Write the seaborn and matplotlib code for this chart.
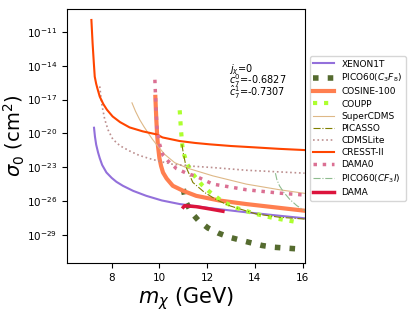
import numpy as np
import pandas as pd
import seaborn as sns
import matplotlib.pyplot as plt

# curves: mass in GeV, cross section as log10(cm^2)
xenon_x = [7.26, 7.3, 7.35, 7.43, 7.5, 7.6, 7.78, 8.0, 8.2, 8.47, 8.9, 9.45, 10.1, 10.85, 12.2, 13.64, 15.0, 16.08]
xenon_y = [-19.5, -20.3, -21.0, -21.7, -22.2, -22.8, -23.47, -23.95, -24.3, -24.65, -25.1, -25.54, -25.95, -26.27, -26.65, -27.0, -27.3, -27.53]

pico_c3f8_x = [11.0, 11.12, 11.33, 11.64, 12.03, 12.45, 12.91, 13.36, 13.82, 14.31, 14.79, 15.73]
pico_c3f8_y = [-24.94, -26.12, -27.0, -27.74, -28.39, -28.83, -29.2, -29.45, -29.7, -29.95, -30.1, -30.24]

cosine_x = [9.83, 9.85, 9.87, 9.9, 9.94, 10.0, 10.07, 10.15, 10.3, 10.56, 11.0, 11.54, 12.5, 13.64, 15.0, 16.08]
cosine_y = [-16.76, -17.8, -18.77, -20.0, -21.12, -22.2, -22.9, -23.47, -24.0, -24.65, -25.1, -25.54, -25.95, -26.27, -26.6, -26.86]

coupp_x = [10.85, 10.9, 10.96, 11.03, 11.17, 11.41, 11.78, 12.1, 12.66, 13.28, 14.05, 14.75, 15.8]
coupp_y = [-17.95, -19.6, -21.12, -21.86, -22.74, -23.62, -24.57, -25.18, -26.07, -26.65, -27.15, -27.5, -27.88]

supercdms_x = [8.85, 9.0, 9.17, 9.35, 9.52, 9.7, 9.87, 10.22, 10.64, 11.2, 12.24, 13.64, 15.03, 16.08]
supercdms_y = [-17.29, -18.05, -18.77, -19.4, -19.94, -20.5, -20.97, -21.86, -22.6, -23.1, -23.77, -24.5, -25.0, -25.32]

picasso_x = [10.94, 11.01, 11.12, 11.4, 11.89, 12.4, 12.94, 14.05, 15.03, 16.08]
picasso_y = [-20.97, -21.86, -23.0, -24.35, -25.24, -25.9, -26.42, -27.15, -27.44, -27.6]

cdmslite_x = [7.5, 7.55, 7.6, 7.71, 7.85, 8.05, 8.35, 8.75, 9.15, 9.59, 10.05, 10.56, 11.3, 12.23, 13.64, 16.08]
cdmslite_y = [-15.83, -16.8, -17.6, -18.77, -19.7, -20.53, -21.1, -21.56, -21.95, -22.24, -22.5, -22.74, -22.9, -23.03, -23.27, -23.53]

cresst_x = [7.15, 7.2, 7.25, 7.29, 7.35, 7.4, 7.5, 7.65, 7.8, 8.04, 8.35, 8.75, 9.3, 9.88, 10.13, 10.85, 11.5, 12.1, 13.0, 13.98, 15.0, 16.08]
cresst_y = [-9.94, -12.0, -13.7, -14.97, -15.6, -16.0, -16.74, -17.4, -17.9, -18.5, -19.0, -19.47, -19.82, -20.09, -20.36, -20.68, -20.85, -20.97, -21.12, -21.24, -21.37, -21.48]

dama0_x = [9.81, 9.85, 9.9, 10.01, 10.15, 10.36, 10.71, 11.13, 11.55, 12.24, 13.64, 15.03, 16.08]
dama0_y = [-15.24, -17.5, -19.65, -20.97, -21.94, -22.45, -23.12, -23.53, -23.82, -24.5, -25.0, -25.3, -25.47]

pico_cf3i_x = [14.86, 14.92, 15.03, 15.2, 15.45, 15.75, 16.08]
pico_cf3i_y = [-23.53, -24.1, -24.65, -25.2, -25.83, -26.4, -26.86]

dama_x = [11.0, 11.05, 11.54, 12.1, 12.66]
dama_y = [-26.55, -26.42, -26.5, -26.7, -26.91]

curves = [
    ("XENON1T", xenon_x, xenon_y, "mediumpurple", "-", 1.5),
    ("PICO60($C_3F_8$)", pico_c3f8_x, pico_c3f8_y, "darkolivegreen", ":", 4),
    ("COSINE-100", cosine_x, cosine_y, "coral", "-", 3),
    ("COUPP", coupp_x, coupp_y, "greenyellow", ":", 3),
    ("SuperCDMS", supercdms_x, supercdms_y, "burlywood", "-", 0.8),
    ("PICASSO", picasso_x, picasso_y, "olive", "-.", 0.8),
    ("CDMSLite", cdmslite_x, cdmslite_y, "rosybrown", ":", 1.2),
    ("CRESST-II", cresst_x, cresst_y, "orangered", "-", 1.5),
    ("DAMA0", dama0_x, dama0_y, "palevioletred", ":", 2.5),
    ("PICO60($CF_3I$)", pico_cf3i_x, pico_cf3i_y, "darkseagreen", "-.", 0.8),
    ("DAMA", dama_x, dama_y, "crimson", "-", 2.5),
]

fig = plt.figure(figsize=(4.15, 3.12), dpi=100)
ax = fig.add_axes([0.161, 0.157, 0.574, 0.814])

for name, xs, ys, col, ls, lw in curves:
    d = pd.DataFrame({"m": xs, "s": 10.0 ** np.array(ys)})
    sns.lineplot(data=d, x="m", y="s", ax=ax, label=name, color=col,
                 linestyle=ls, linewidth=lw, sort=False)

ax.set_yscale("log")
ax.set_xlim(6.12, 16.1)
ax.set_ylim(10.0 ** -31.5, 10.0 ** -8.97)
ax.set_yticks([10.0 ** e for e in [-29, -26, -23, -20, -17, -14, -11]])
ax.yaxis.set_minor_locator(plt.NullLocator())
ax.set_xticks([8, 10, 12, 14, 16])
ax.tick_params(labelsize=7.5)

ax.set_xlabel(r"$m_\chi$ (GeV)", fontsize=15, labelpad=2)
ax.set_ylabel(r"$\sigma_0$ (cm$^2$)", fontsize=14, labelpad=0)

ax.text(0.68, 0.79, "$j_\\chi$=0\n$c_7^0$=-0.6827\n$\\hat{c}_7^1$=-0.7307",
        transform=ax.transAxes, fontsize=7, va="top", ha="left", linespacing=0.6)

ax.legend(loc="upper left", bbox_to_anchor=(1.02, 0.815), fontsize=6.5,
          borderaxespad=0, handlelength=2.3, labelspacing=0.35)

fig.savefig("out.png", dpi=100)
